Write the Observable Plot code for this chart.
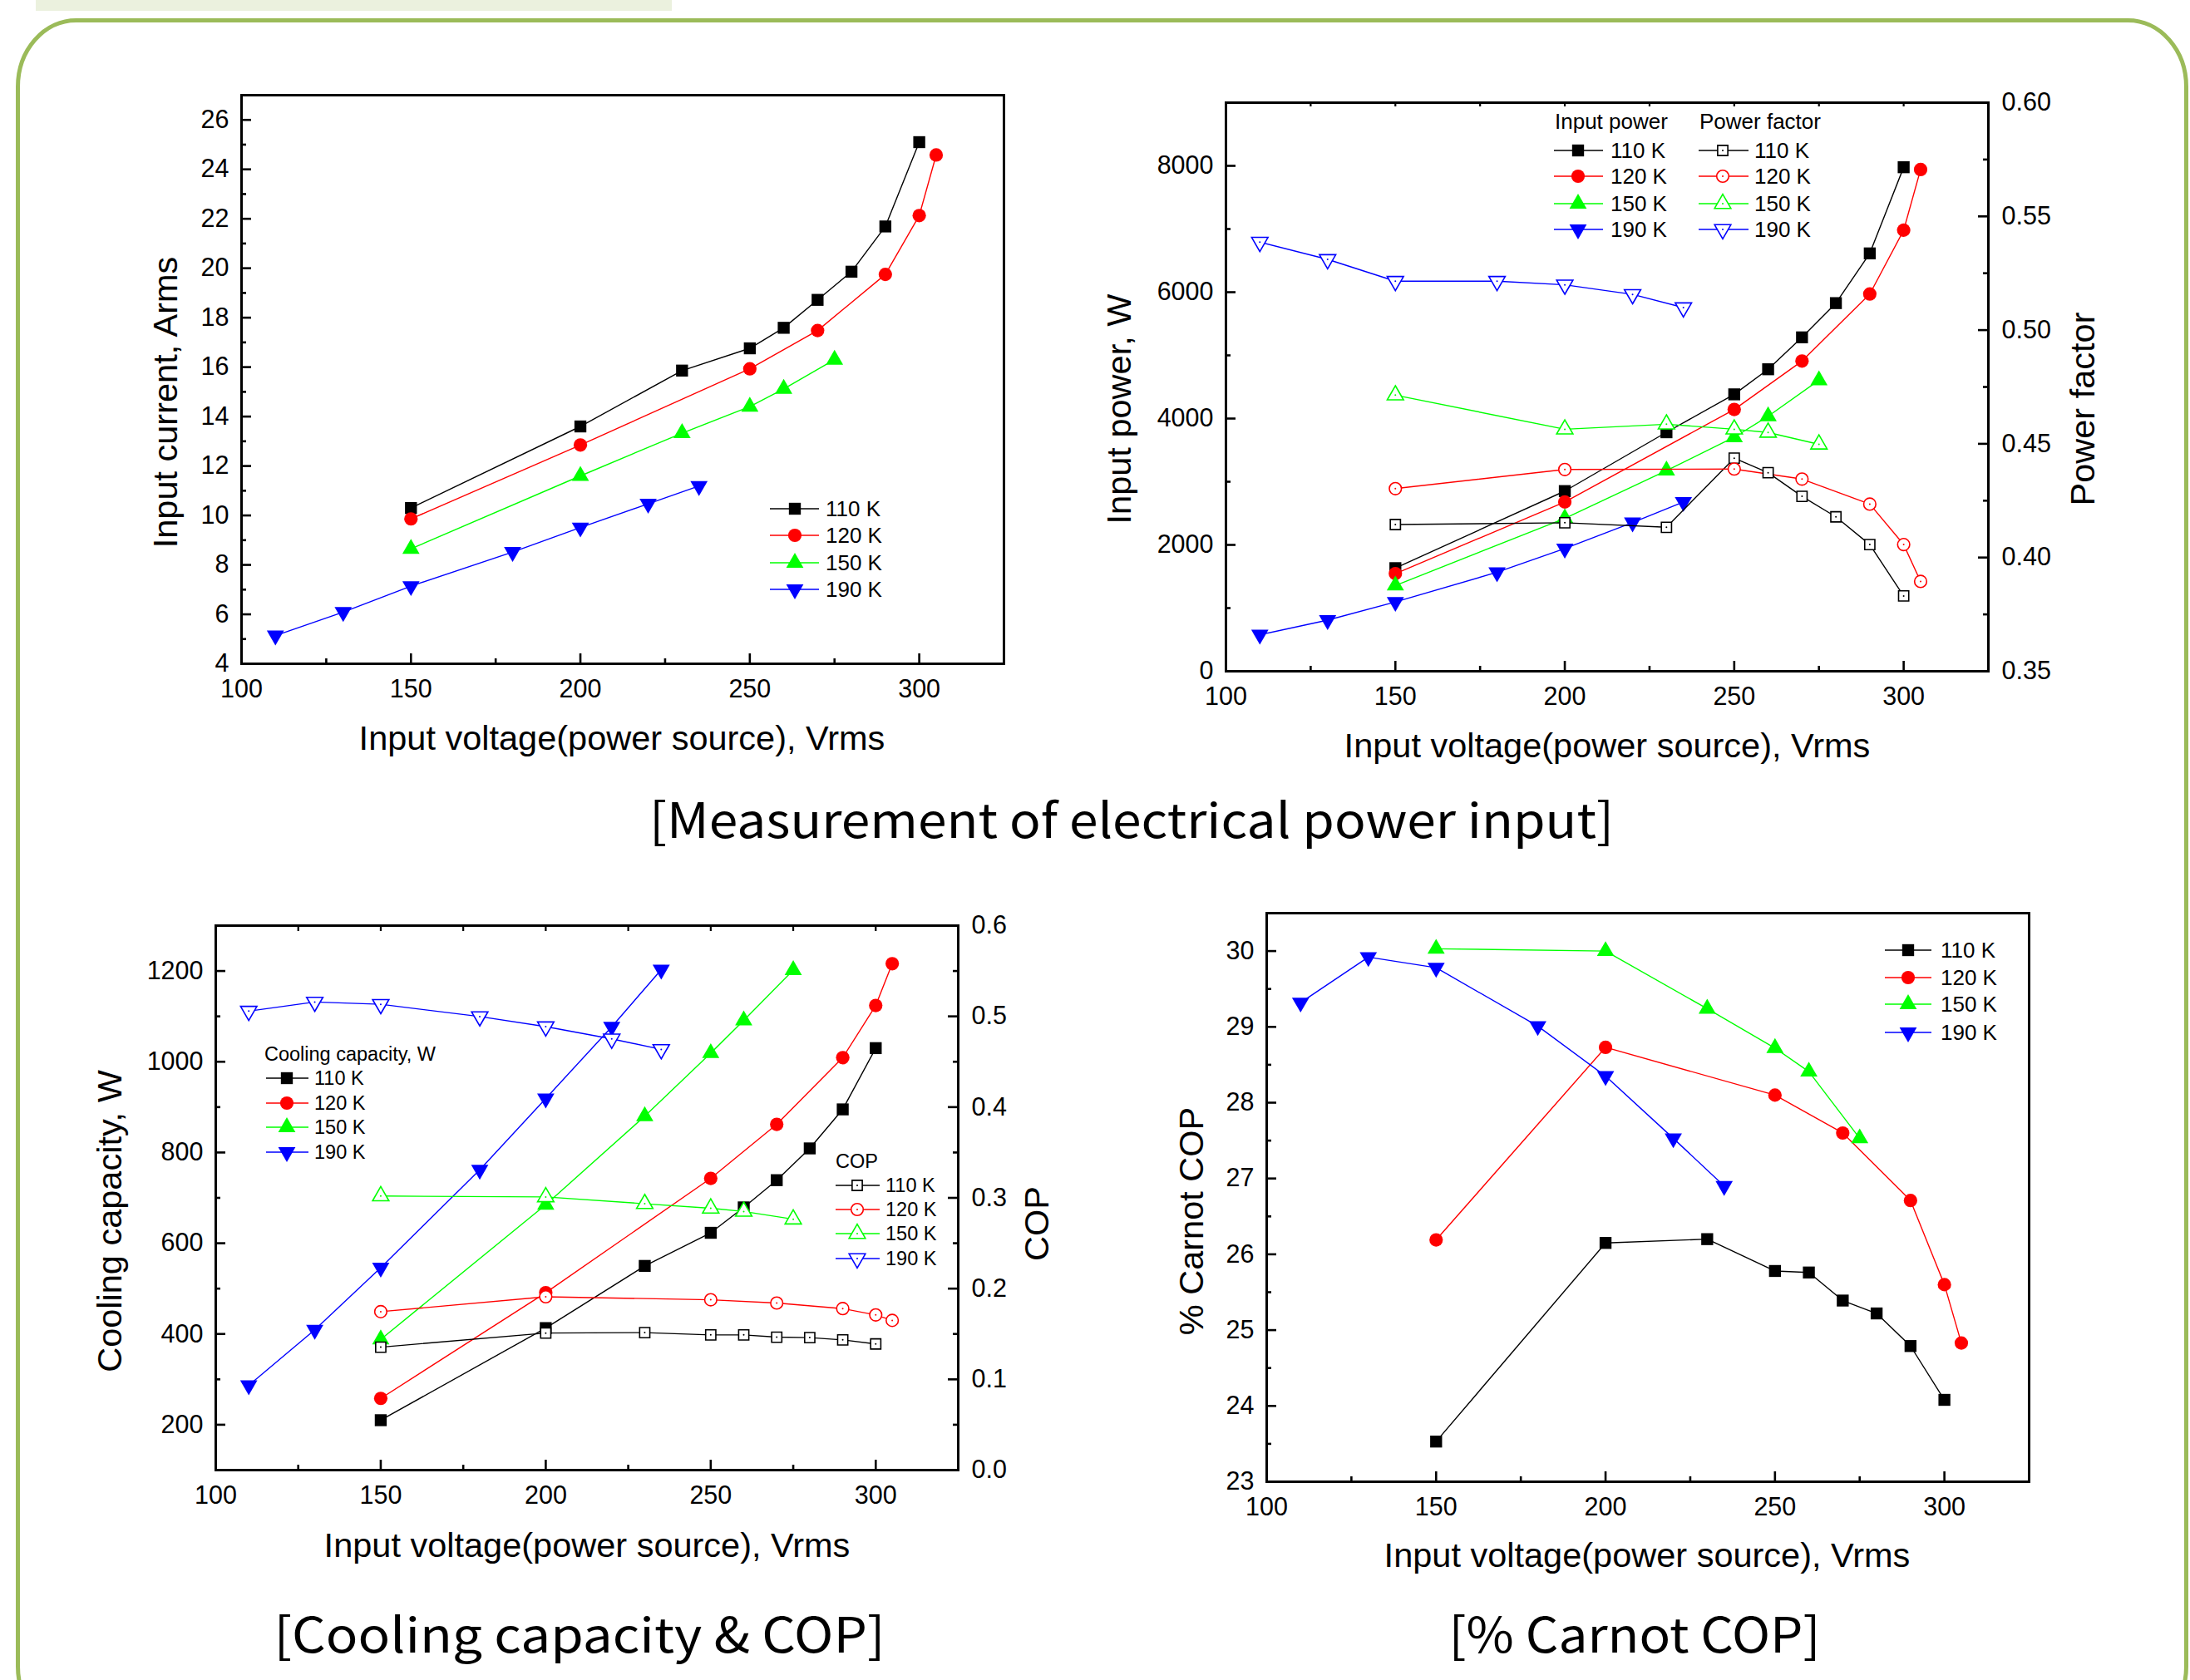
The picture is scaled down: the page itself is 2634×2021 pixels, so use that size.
<!DOCTYPE html>
<html><head><meta charset="utf-8">
<script src="https://cdn.jsdelivr.net/npm/d3@7"></script>
<script src="https://cdn.jsdelivr.net/npm/@observablehq/plot@0.6"></script>
<style>
html,body{margin:0;padding:0;background:#fff;}
#page{position:relative;width:2634px;height:2021px;overflow:hidden;background:#fff;font-family:"Liberation Sans",Arial,sans-serif;}
</style></head>
<body><div id="page"></div>
<script>
// ---------------- DATA ----------------
const temps = ["110 K","120 K","150 K","190 K"];

const voltage110 = [150,200,230,250,260,270,280,290,300];
const voltage120 = [150,200,250,270,290,300,305];
const voltage150 = [150,200,230,250,260,275];
const voltage190 = [110,130,150,180,200,220,235];

const current110 = [10.3,13.6,15.86,16.76,17.59,18.72,19.86,21.69,25.1];
const current120 = [9.86,12.85,15.93,17.48,19.75,22.13,24.58];
const current150 = [8.65,11.6,13.33,14.4,15.12,16.3];
const current190 = [5.14,6.09,7.14,8.52,9.51,10.47,11.19];

const power110 = [1632,2852,3783,4383,4780,5285,5827,6614,7978];
const power120 = [1545,2679,4144,4910,5971,6982,7942];
const power150 = [1357,2420,3177,3704,4036,4606];
const power190 = [578,809,1097,1567,1942,2354,2679];

const pf110 = [0.4145,0.4153,0.4133,0.4437,0.4373,0.4269,0.4179,0.4057,0.3831];
const pf120 = [0.4303,0.4387,0.4389,0.4345,0.4235,0.4057,0.3895];
const pf150 = [0.4714,0.4564,0.4586,0.4564,0.455,0.4498];
const pf190 = [0.5387,0.5311,0.5215,0.5215,0.5199,0.5157,0.5099];

const cooling110 = [210,413,550,623,679,739,809,895,1030];
const cooling120 = [258,491,743,862,1009,1124,1216];
const cooling150 = [388,685,880,1019,1091,1202];
const cooling190 = [287,409,546,762,919,1077,1203];

const cop110 = [0.1355,0.151,0.1515,0.149,0.149,0.1465,0.146,0.1435,0.139];
const cop120 = [0.1746,0.191,0.1877,0.1841,0.178,0.171,0.165];
const cop150 = [0.302,0.301,0.2935,0.2885,0.285,0.2765];
const cop190 = [0.5058,0.5158,0.5133,0.4998,0.4887,0.4752,0.4636];

const carnot110 = [23.53,26.15,26.2,25.78,25.76,25.39,25.22,24.79,24.08];
const carnot120 = [26.19,28.73,28.1,27.6,26.71,25.6,24.83];
const carnot150 = [30.03,30.0,29.24,28.72,28.41,27.53];
const carnot190 = [29.32,29.92,29.78,29.01,28.35,27.53,26.9];

const xTicks = [100,150,200,250,300];
const xMinor = [125,175,225,275];
const xTop = [125,150,175,200,225,250,275,300];

const currentTicks = [4,6,8,10,12,14,16,18,20,22,24,26];
const currentMinor = [5,7,9,11,13,15,17,19,21,23,25];
const powerTicks = [0,2000,4000,6000,8000];
const powerMinor = [1000,3000,5000,7000];
const pfTicks = [0.35,0.40,0.45,0.50,0.55,0.60];
const pfMinor = [0.375,0.425,0.475,0.525,0.575];
const coolTicks = [200,400,600,800,1000,1200];
const coolMinor = [300,500,700,900,1100];
const copTicks = [0.0,0.1,0.2,0.3,0.4,0.5,0.6];
const copMinor = [0.05,0.15,0.25,0.35,0.45,0.55];
const carnotTicks = [23,24,25,26,27,28,29,30];
const carnotMinor = [23.5,24.5,25.5,26.5,27.5,28.5,29.5];

// ---------------- STYLE ----------------
const colors = {"110 K":"#000000","120 K":"#ff0000","150 K":"#00ff00","190 K":"#0000ff"};
const triangleDown = {draw(ctx, size){
  const y = -Math.sqrt(size / (Math.sqrt(3) * 3));
  ctx.moveTo(0, -y * 2); ctx.lineTo(-Math.sqrt(3) * y, y); ctx.lineTo(Math.sqrt(3) * y, y); ctx.closePath();
}};
const symPlot = {"110 K":"square","120 K":"circle","150 K":"triangle","190 K":triangleDown};
const symD3 = {"110 K":d3.symbolSquare,"120 K":d3.symbolCircle,"150 K":d3.symbolTriangle,"190 K":triangleDown};
const rFilled = {"110 K":8.1,"120 K":8.1,"150 K":7.7,"190 K":7.7};
const rOpen = {"110 K":6.9,"120 K":7.3,"150 K":7.3,"190 K":7.3};

const volt = {"110 K":voltage110,"120 K":voltage120,"150 K":voltage150,"190 K":voltage190};
function table(values){ return temps.map(T => volt[T].map((x,i)=>({x, y: values[T][i], T}))); }

function seriesMarks(values, open){
  const marks = [];
  table(values).forEach(data => {
    const T = data[0].T;
    marks.push(Plot.line(data, {x:"x", y:"y", stroke: colors[T], strokeWidth: 1.4}));
  });
  table(values).forEach(data => {
    const T = data[0].T;
    if (open) {
      marks.push(Plot.dot(data, {x:"x", y:"y", symbol: symPlot[T], r: rOpen[T], fill:"white", stroke: colors[T], strokeWidth: 1.6}));
      marks.push(Plot.dot(data, {x:"x", y:"y", r: 1, fill: colors[T], stroke: "none"}));
    } else {
      marks.push(Plot.dot(data, {x:"x", y:"y", symbol: symPlot[T], r: rFilled[T], fill: colors[T], stroke: "none"}));
    }
  });
  return marks;
}

const page = document.getElementById("page");
const M = {l:130, r:130, t:30, b:80};
const FONT = "Liberation Sans, Arial, sans-serif";

function build(f, yDomain, marksFn, opts = {}){
  const fw = f.R - f.L, fh = f.B - f.T;
  const W = fw + M.l + M.r, H = fh + M.t + M.b;
  const p = Plot.plot({
    width: W, height: H,
    marginLeft: M.l, marginRight: M.r, marginTop: M.t, marginBottom: M.b,
    x: {domain: [100,325], axis: opts.noX ? null : undefined},
    y: {domain: yDomain},
    style: {background:"transparent", overflow:"visible", fontFamily: FONT, fontSize:"30px", color:"black"},
    marks: marksFn(fw, fh)
  });
  p.style.position = "absolute";
  p.style.left = (f.L - M.l) + "px";
  p.style.top = (f.T - M.t) + "px";
  page.appendChild(p);
}

function bottomAxis(fh, topTicks){
  const m = [
    Plot.axisX(xTicks, {tickSize:0, tickPadding:19, label:null, fontSize:30.5, tickFormat: d => String(d)}),
    Plot.ruleX([150,200,250,300], {insetTop: fh - 12, strokeWidth: 2.6, stroke:"black"}),
    Plot.ruleX(xMinor, {insetTop: fh - 6, strokeWidth: 2.6, stroke:"black"})
  ];
  if (topTicks) m.push(Plot.ruleX(xTop, {insetBottom: fh - topTicks, strokeWidth: 2.2, stroke:"black"}));
  return m;
}
function leftAxis(fw, ticks, minor, fmt){
  return [
    Plot.axisY(ticks, {anchor:"left", tickSize:0, tickPadding:15, label:null, fontSize:30.5, tickFormat: fmt}),
    Plot.ruleY(ticks, {insetRight: fw - 12, strokeWidth: 2.6, stroke:"black"}),
    Plot.ruleY(minor, {insetRight: fw - 6, strokeWidth: 2.6, stroke:"black"})
  ];
}
function rightAxis(fw, ticks, minor, fmt){
  return [
    Plot.axisY(ticks, {anchor:"right", tickSize:0, tickPadding:16, label:null, fontSize:30.5, tickFormat: fmt}),
    Plot.ruleY(ticks, {insetLeft: fw - 12, strokeWidth: 2.6, stroke:"black"}),
    Plot.ruleY(minor, {insetLeft: fw - 6, strokeWidth: 2.6, stroke:"black"})
  ];
}
const intFmt = d3.format("d");

// ---------------- PANEL 1 ----------------
const F1 = {L:290, R:1207, T:114, B:798};
build(F1, [4,27], (fw, fh) => [
  ...seriesMarks({"110 K":current110,"120 K":current120,"150 K":current150,"190 K":current190}, false),
  ...bottomAxis(fh, 0),
  ...leftAxis(fw, currentTicks, currentMinor, intFmt),
  Plot.frame({stroke:"black", strokeWidth:3})
]);

// ---------------- PANEL 2 ----------------
const F2 = {L:1474, R:2391, T:123, B:807};
build(F2, [0,9000], (fw, fh) => [
  ...seriesMarks({"110 K":power110,"120 K":power120,"150 K":power150,"190 K":power190}, false),
  ...bottomAxis(fh, 5),
  ...leftAxis(fw, powerTicks, powerMinor, intFmt),
  Plot.frame({stroke:"black", strokeWidth:3})
]);
build(F2, [0.35,0.60], (fw, fh) => [
  ...seriesMarks({"110 K":pf110,"120 K":pf120,"150 K":pf150,"190 K":pf190}, true),
  ...rightAxis(fw, pfTicks, pfMinor, d3.format(".2f"))
], {noX:true});

// ---------------- PANEL 3 ----------------
const F3 = {L:259, R:1152, T:1113, B:1768};
build(F3, [100,1300], (fw, fh) => [
  ...seriesMarks({"110 K":cooling110,"120 K":cooling120,"150 K":cooling150,"190 K":cooling190}, false),
  ...bottomAxis(fh, 7),
  ...leftAxis(fw, coolTicks, coolMinor, intFmt),
  Plot.frame({stroke:"black", strokeWidth:3})
]);
build(F3, [0,0.6], (fw, fh) => [
  ...seriesMarks({"110 K":cop110,"120 K":cop120,"150 K":cop150,"190 K":cop190}, true),
  ...rightAxis(fw, copTicks, copMinor, d3.format(".1f"))
], {noX:true});

// ---------------- PANEL 4 ----------------
const F4 = {L:1523, R:2440, T:1098, B:1782};
build(F4, [23,30.5], (fw, fh) => [
  ...seriesMarks({"110 K":carnot110,"120 K":carnot120,"150 K":carnot150,"190 K":carnot190}, false),
  ...bottomAxis(fh, 0),
  ...leftAxis(fw, carnotTicks, carnotMinor, intFmt),
  Plot.frame({stroke:"black", strokeWidth:3})
]);

// ---------------- OVERLAY: frame decoration, titles, legends, captions ----------------
const ov = d3.select(page).append("svg")
  .attr("width", 2634).attr("height", 2021)
  .style("position","absolute").style("left","0px").style("top","0px")
  .style("font-family", FONT);

ov.append("rect").attr("x",43).attr("y",-5).attr("width",765).attr("height",18).attr("fill","#EBF1DE");
ov.append("rect").attr("x",21.5).attr("y",24.5).attr("width",2608).attr("height",2060)
  .attr("rx",70).attr("ry",80).attr("fill","none").attr("stroke","#9BBB59").attr("stroke-width",5);

function hTitle(text, cx, by, fs=41.5){
  ov.append("text").attr("x",cx).attr("y",by).attr("text-anchor","middle").attr("font-size",fs).text(text);
}
function vTitle(text, bx, cy, fs=41.5){
  ov.append("text").attr("transform",`translate(${bx},${cy}) rotate(-90)`).attr("text-anchor","middle").attr("font-size",fs).text(text);
}
hTitle("Input voltage(power source), Vrms", 748, 902);
vTitle("Input current, Arms", 213, 484);
hTitle("Input voltage(power source), Vrms", 1933, 911);
vTitle("Input power, W", 1360, 492);
vTitle("Power factor", 2519, 492);
hTitle("Input voltage(power source), Vrms", 706, 1873);
vTitle("Cooling capacity, W", 146, 1469);
vTitle("COP", 1261, 1472);
hTitle("Input voltage(power source), Vrms", 1981, 1885);
vTitle("% Carnot COP", 1447, 1469);

function legend(c){
  if (c.title) ov.append("text").attr("x", c.tx).attr("y", c.ty).attr("font-size", c.fs).text(c.title);
  temps.forEach((T,i) => {
    const y = c.ys[i];
    ov.append("line").attr("x1",c.x0).attr("x2",c.x1).attr("y1",y).attr("y2",y).attr("stroke",colors[T]).attr("stroke-width",1.4);
    const r = c.open ? rOpen[T] : rFilled[T];
    ov.append("path").attr("transform",`translate(${c.xm},${y})`)
      .attr("d", d3.symbol(symD3[T], Math.PI*r*r)())
      .attr("fill", c.open ? "white" : colors[T])
      .attr("stroke", c.open ? colors[T] : "none").attr("stroke-width",1.6);
    if (c.open) ov.append("circle").attr("cx",c.xm).attr("cy",y).attr("r",1).attr("fill",colors[T]);
    ov.append("text").attr("x",c.xt).attr("y",y).attr("dy","0.36em").attr("font-size",c.fs).text(T);
  });
}
legend({x0:926, x1:985, xm:956, xt:993, ys:[612,644,677,709], fs:26});
legend({title:"Input power", tx:1870, ty:155, x0:1869, x1:1928, xm:1898, xt:1937, ys:[181,212,245,276], fs:26});
legend({title:"Power factor", tx:2044, ty:155, x0:2043, x1:2103, xm:2072, xt:2110, ys:[181,212,245,276], fs:26, open:true});
legend({title:"Cooling capacity, W", tx:318, ty:1276, x0:320, x1:371, xm:345, xt:378, ys:[1297,1327,1356,1386], fs:23.5});
legend({title:"COP", tx:1005, ty:1405, x0:1005, x1:1058, xm:1031, xt:1065, ys:[1426,1455,1484,1514], fs:23.5, open:true});
legend({x0:2267, x1:2323, xm:2295, xt:2334, ys:[1143,1176,1208,1242], fs:26});

function caption(text, cx, by, w){
  ov.append("text").attr("x",cx).attr("y",by).attr("text-anchor","middle")
    .attr("font-family","'Noto Sans CJK KR','Noto Sans',sans-serif").attr("font-size",58)
    .attr("textLength", w).attr("lengthAdjust","spacingAndGlyphs").text(text);
}
caption("[Measurement of electrical power input]", 1361, 1008, 1160);
caption("[Cooling capacity & COP]", 697, 1988, 735);
caption("[% Carnot COP]", 1966, 1988, 447);
</script>
</body></html>
